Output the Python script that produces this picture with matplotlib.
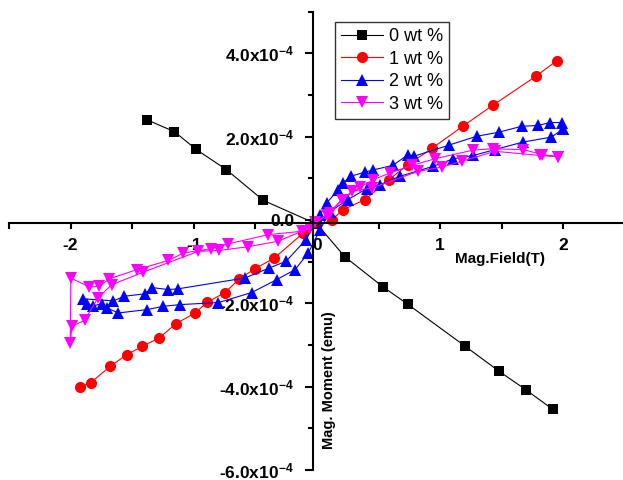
import matplotlib
matplotlib.use("Agg")
import matplotlib.pyplot as plt
from matplotlib.ticker import FixedLocator, FixedFormatter

plt.rcParams['font.family'] = ['Liberation Sans', 'DejaVu Sans']
plt.rcParams['mathtext.default'] = 'regular'

# ---- data (x in T, y in units of 1e-4 emu) ----
x0 = [-1.376, -1.157, -0.981, -0.736, -0.435, 0.0, 0.227, 0.538, 0.736, 1.198, 1.478, 1.693, 1.912]
y0 = [2.40, 2.12, 1.695, 1.21, 0.47, -0.10, -0.885, -1.61, -2.02, -3.02, -3.63, -4.07, -4.54]

x1 = [-1.922, -1.835, -1.679, -1.543, -1.417, -1.281, -1.146, -0.989, -0.890, -0.746,
      -0.630, -0.503, -0.346, -0.111, 0.119, 0.213, 0.389, 0.584, 0.740, 0.933,
      1.182, 1.425, 1.776, 1.944]
y1 = [-4.01, -3.90, -3.51, -3.23, -3.03, -2.83, -2.49, -2.23, -1.97, -1.74,
      -1.41, -1.17, -0.91, -0.31, 0.01, 0.25, 0.49, 0.97, 1.33, 1.72,
      2.25, 2.75, 3.45, 3.82]

x2 = [1.998, 1.985, 1.890, 1.795, 1.660, 1.479, 1.295, 1.073, 0.787, 0.740,
      0.614, 0.452, 0.389, 0.273, 0.208, 0.173, 0.079, 0.024,
      -0.089, -0.251, -0.387, -0.584, -1.125, -1.206, -1.341, -1.395, -1.565, -1.652, -1.903,
      -1.868, -1.819, -1.746, -1.706, -1.612, -1.381, -1.247, -1.111, -0.800, -0.530,
      -0.327, -0.178, -0.071,
      0.024, 0.105, 0.249, 0.403, 0.511, 0.673, 0.943, 1.105, 1.268, 1.444, 1.668, 1.903, 1.998]
y2 = [2.19, 2.34, 2.34, 2.27, 2.25, 2.11, 2.01, 1.80, 1.53, 1.57,
      1.31, 1.20, 1.15, 1.05, 0.88, 0.73, 0.41, 0.13,
      -0.47, -0.99, -1.15, -1.39, -1.65, -1.67, -1.62, -1.77, -1.83, -1.94, -1.89,
      -2.01, -2.06, -2.01, -2.11, -2.23, -2.15, -2.07, -2.03, -1.98, -1.74,
      -1.43, -1.19, -0.79,
      -0.23, 0.20, 0.49, 0.75, 0.85, 1.05, 1.29, 1.47, 1.55, 1.69, 1.87, 1.99, 2.19]

x3 = [1.957, 1.830, 1.673, 1.425, 1.268, 0.957, 0.768, 0.592, 0.457, 0.349, 0.200, 0.105, -0.016,
      -0.124, -0.395, -0.719, -0.862, -1.084, -1.206, -1.462, -1.685, -1.766, -1.847, -1.998,
      -2.003, -1.989, -1.887, -1.779, -1.665, -1.409, -0.963, -0.792, -0.557, -0.319, -0.057,
      0.079, 0.281, 0.444, 0.822, 1.011, 1.174, 1.444, 1.809, 1.957]
y3 = [1.52, 1.57, 1.69, 1.71, 1.68, 1.47, 1.31, 1.13, 0.97, 0.79, 0.49, 0.17, -0.05,
      -0.27, -0.35, -0.57, -0.69, -0.79, -0.97, -1.19, -1.41, -1.59, -1.61, -1.39,
      -2.95, -2.55, -2.41, -1.87, -1.55, -1.25, -0.75, -0.73, -0.64, -0.51, -0.19,
      0.13, 0.69, 0.77, 1.17, 1.27, 1.41, 1.65, 1.55, 1.52]

labels = ['0 wt %', '1 wt %', '2 wt %', '3 wt %']
scale = 1e-4

x_major = [-2, -1, 0, 1, 2]
x_major_labels = ['-2', '-1', '0', '1', '2']
x_minor = [-2.5, -1.5, -0.5, 0.5, 1.5]
y_major = [-6e-4, -4e-4, -2e-4, 0.0, 2e-4, 4e-4]
y_major_labels = ['-6.0x10$^{-4}$', '-4.0x10$^{-4}$', '-2.0x10$^{-4}$', '0.0',
                  '2.0x10$^{-4}$', '4.0x10$^{-4}$']
y_minor = [-5e-4, -3e-4, -1e-4, 1e-4, 3e-4, 5e-4]

fig = plt.figure(figsize=(6.23, 4.80), dpi=100)
ax = fig.add_axes([0.01445, 0.0208, 0.9888, 0.9548])

ms_kw = dict(linewidth=0.8, markeredgewidth=0)
ax.plot(x0, [v * scale for v in y0], color='black', marker='s', markersize=7, label=labels[0], **ms_kw)
ax.plot(x1, [v * scale for v in y1], color='red', marker='o', markersize=8, label=labels[1], **ms_kw)
ax.plot(x2, [v * scale for v in y2], color='blue', marker='^', markersize=8.5, label=labels[2], **ms_kw)
ax.plot(x3, [v * scale for v in y3], color='magenta', marker='v', markersize=8.5, label=labels[3], **ms_kw)

ax.set_xlim(-2.5, 2.5)
ax.set_ylim(-6e-4, 5e-4)

for s in ['top', 'right']:
    ax.spines[s].set_visible(False)
ax.spines['left'].set_position(('data', -0.03))
ax.spines['bottom'].set_position(('data', -0.08e-4))
ax.spines['left'].set_linewidth(1.5)
ax.spines['bottom'].set_linewidth(1.5)

ax.xaxis.set_major_locator(FixedLocator(x_major))
ax.xaxis.set_major_formatter(FixedFormatter(x_major_labels))
ax.xaxis.set_minor_locator(FixedLocator(x_minor))
ax.yaxis.set_major_locator(FixedLocator(y_major))
ax.yaxis.set_major_formatter(FixedFormatter(y_major_labels))
ax.yaxis.set_minor_locator(FixedLocator(y_minor))

ax.tick_params(axis='x', which='both', direction='out', length=4.2, width=1.5, pad=6)
ax.tick_params(axis='x', which='major', labelsize=12.5)
ax.tick_params(axis='y', which='major', direction='out', length=5.8, width=1.5, pad=8, labelsize=12.5)
ax.tick_params(axis='y', which='minor', direction='out', length=3.6, width=1.5)
for lab in ax.get_xticklabels() + ax.get_yticklabels():
    lab.set_fontweight('bold')

ax.text(0.797, 0.4604, 'Mag.Field(T)', transform=ax.transAxes, ha='center', va='center',
        fontsize=11, fontweight='bold')
ax.text(0.519, 0.1964, 'Mag. Moment (emu)', transform=ax.transAxes, ha='center', va='center',
        rotation=90, fontsize=10.5, fontweight='bold')

leg = ax.legend(loc='upper left', bbox_to_anchor=(0.529, 0.9775), borderaxespad=0,
                fontsize=13, fancybox=False, framealpha=1, edgecolor='#333333',
                handlelength=2.3, handletextpad=0.35, labelspacing=0.3, borderpad=0.35)
leg.get_frame().set_linewidth(1.0)

fig.savefig('out.png', dpi=100)
